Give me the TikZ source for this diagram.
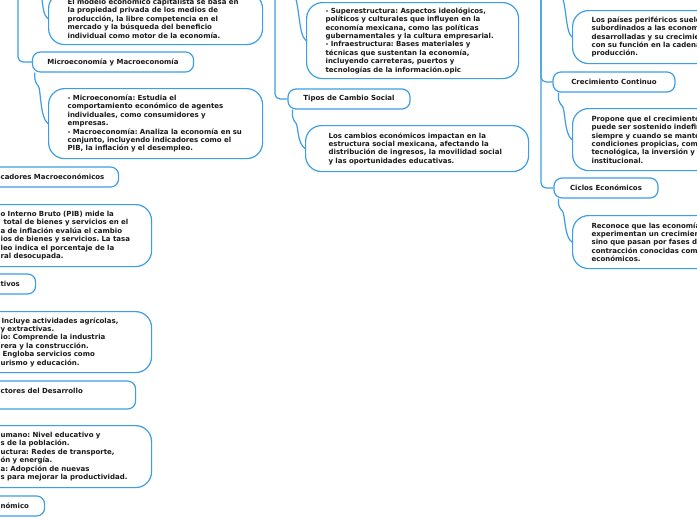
\documentclass[tikz,border=0pt]{standalone}
\usepackage{fontspec}
\setmainfont{DejaVu Sans}
\usepackage{tikz}
\usetikzlibrary{positioning, calc, backgrounds}
\usepackage{xcolor}
\definecolor{mapblue}{HTML}{3C9EE5}
\definecolor{inkdark}{HTML}{1A1A1A}
\newcommand{\mapfont}{\fontsize{7}{8.4}\selectfont\bfseries\frenchspacing\hyphenpenalty=10000}

\tikzset{
    topicbox/.style={draw=mapblue, fill=white, line width=1.2pt, rounded corners=8pt, minimum height=20pt, inner xsep=15pt, inner ysep=2pt, font=\mapfont, text=inkdark, align=left},
    notebox/.style={draw=mapblue, fill=white, line width=1.2pt, rounded corners=16pt, inner xsep=19pt, inner ysep=3pt, font=\mapfont, text=inkdark, align=left, anchor=north west},
    linkline/.style={draw=mapblue, line width=1.2pt, rounded corners=5pt}
}

\begin{document}
\begin{tikzpicture}[x=1pt, y=-1pt]
    \useasboundingbox (0,0) rectangle (697,520);
    \clip (0,0) rectangle (697,520);

    % left column
    \node[notebox, text width=176pt, minimum height=52pt] (capnote) at (48,-8) {
        El modelo económico capitalista se basa en\\
        la propiedad privada de los medios de\\
        producción, la libre competencia en el\\
        mercado y la búsqueda del beneficio\\
        individual como motor de la economía.};
    \node[topicbox, minimum width=160pt] (micropill) at (113,62) {Microeconomía y Macroeconomía};
    \node[notebox, text width=176pt, minimum height=70pt] (micronote) at (48,88) {
        - Microeconomía: Estudia el\\
        comportamiento económico de agentes\\
        individuales, como consumidores y\\
        empresas.\\
        - Macroeconomía: Analiza la economía en su\\
        conjunto, incluyendo indicadores como el\\
        PIB, la inflación y el desempleo.};
    \node[topicbox, anchor=west, text width=103pt] (indpill) at (-15,177) {\mbox{cadores Macroeconómicos}};
    \node[notebox, inner xsep=20pt, text width=131pt, minimum height=62pt] (pibnote) at (-20,204) {
        o Interno Bruto (PIB) mide la\\
        \hspace*{3pt}total de bienes y servicios en el\\
        a de inflación evalúa el cambio\\
        ios de bienes y servicios. La tasa\\
        leo indica el porcentaje de la\\
        ral desocupada.};
    \node[topicbox, anchor=west, text width=20pt] (tivpill) at (-15,284) {\mbox{tivos}};
    \node[notebox, inner xsep=20pt, text width=131pt, minimum height=61pt] (secnote) at (-20,311) {
        \hspace*{1pt}Incluye actividades agrícolas,\\
        y extractivas.\\
        io: Comprende la industria\\
        rera y la construcción.\\
        \hspace*{2pt}Engloba servicios como\\
        urismo y educación.};
    \node[topicbox, anchor=west, text width=120pt, minimum height=28pt] (facpill) at (-15,395) {\mbox{ctores del Desarrollo}\\\mbox{}};
    \node[notebox, inner xsep=20pt, text width=131pt, minimum height=62pt] (facnote) at (-20,425) {
        umano: Nivel educativo y\\
        s de la población.\\
        uctura: Redes de transporte,\\
        ón y energía.\\
        a: Adopción de nuevas\\
        s para mejorar la productividad.};
    \node[topicbox, anchor=west, text width=29pt] (econpill) at (-15,506) {\mbox{nómico}};

    % middle column
    \node[notebox, text width=174pt, minimum height=76pt] (infranote) at (306,2) {
        - Superestructura: Aspectos ideológicos,\\
        políticos y culturales que influyen en la\\
        economía mexicana, como las políticas\\
        gubernamentales y la cultura empresarial.\\
        - Infraestructura: Bases materiales y\\
        técnicas que sustentan la economía,\\
        incluyendo carreteras, puertos y\\
        tecnologías de la información.opic};
    \node[topicbox, minimum width=122pt] (tipospill) at (349,99) {Tipos de Cambio Social};
    \node[notebox, inner xsep=23pt, text width=177pt, minimum height=46pt] (tiposnote) at (305,125) {
        Los cambios económicos impactan en la\\
        estructura social mexicana, afectando la\\
        \mbox{distribución de ingresos, la movilidad social}\\
        y las oportunidades educativas.};

    % right column
    \node[notebox, text width=200pt, minimum height=53pt] (perifnote) at (572,10) {
        Los países periféricos suele\\
        subordinados a las econom\\
        desarrolladas y su crecimie\\
        con su función en la cadena\\
        producción.};
    \node[topicbox, minimum width=122pt] (crecpill) at (614,82) {Crecimiento Continuo};
    \node[notebox, text width=200pt, minimum height=62pt] (crecnote) at (572,108) {
        Propone que el crecimiento\\
        puede ser sostenido indefin\\
        siempre y cuando se mante\\
        condiciones propicias, com\\
        tecnológica, la inversión y l\\
        institucional.};
    \node[topicbox, minimum width=104pt] (ciclospill) at (606,188) {Ciclos Económicos};
    \node[notebox, text width=200pt, minimum height=53pt] (ciclosnote) at (572,215) {
        Reconoce que las economía\\
        experimentan un crecimien\\
        sino que pasan por fases de\\
        contracción conocidas com\\
        económicos.};

    \begin{scope}[on background layer]
        \fill[white] (0,0) rectangle (697,520);
        \coordinate (trunkA) at (18,-5);
        \coordinate (capA) at (36,-24);
        \coordinate (trunkB) at (275,-5);
        \coordinate (infraB) at (293,-8);
        \coordinate (trunkC) at (541,-5);
        \coordinate (perifC) at (560,-8);
        \draw[linkline] (trunkA) |- (micropill.west);
        \draw[linkline] (capA) .. controls (44,-14) and (40,14) .. (capnote.west);
        \draw[linkline] ($(micropill.south west)+(3,0)$) -- ++(0,10) .. controls +(6,6) and (40,118) .. (micronote.west);
        \draw[linkline] (trunkB) |- (tipospill.west);
        \draw[linkline] (infraB) .. controls (300,2) and (298,35) .. (infranote.west);
        \draw[linkline] ($(tipospill.south west)+(5,0)$) -- ++(0,10) .. controls +(6,6) and (297,143) .. (tiposnote.west);
        \draw[linkline] (trunkC) |- (crecpill.west);
        \draw[linkline] (trunkC) |- (ciclospill.west);
        \draw[linkline] (perifC) .. controls (567,2) and (565,32) .. (perifnote.west);
        \draw[linkline] ($(crecpill.south west)+(6,0)$) -- ++(0,10) .. controls +(7,6) and (564,134) .. (crecnote.west);
        \draw[linkline] ($(ciclospill.south west)+(5,0)$) -- ++(0,9) .. controls +(7,6) and (564,237) .. (ciclosnote.west);
    \end{scope}
\end{tikzpicture}
\end{document}
